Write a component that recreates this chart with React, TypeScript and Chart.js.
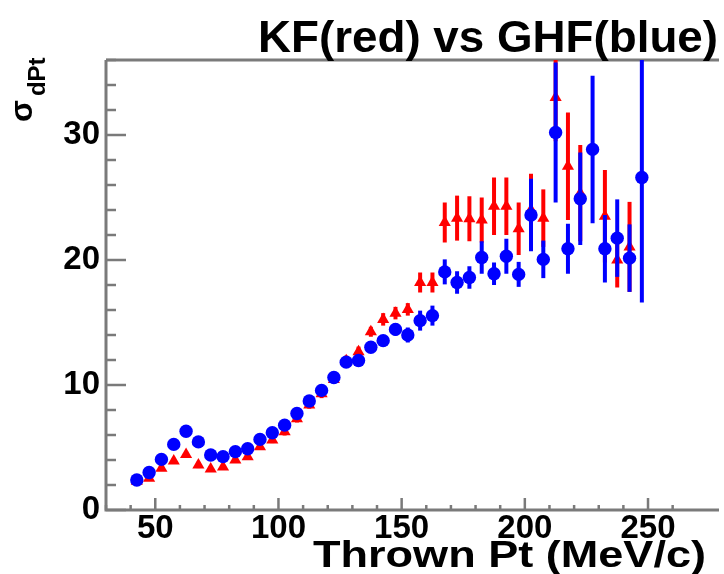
import React, { useEffect, useRef } from 'react';
import { Chart, registerables } from 'chart.js';

Chart.register(...registerables);

// Bin centres of thrown Pt (MeV/c)
const ptBins = [42.5, 47.5, 52.5, 57.5, 62.5, 67.5, 72.5, 77.5, 82.5, 87.5, 92.5, 97.5, 102.5, 107.5,
  112.5, 117.5, 122.5, 127.5, 132.5, 137.5, 142.5, 147.5, 152.5, 157.5, 162.5, 167.5, 172.5, 177.5,
  182.5, 187.5, 192.5, 197.5, 202.5, 207.5, 212.5, 217.5, 222.5, 227.5, 232.5, 237.5, 242.5, 247.5];

// GHF (blue)
const ghfSigma = [2.4, 3.0, 4.05, 5.25, 6.3, 5.45, 4.4, 4.27, 4.67, 4.9, 5.65, 6.18, 6.79, 7.72,
  8.72, 9.57, 10.6, 11.83, 11.96, 13.02, 13.55, 14.45, 14.0, 15.15, 15.55, 19.05, 18.2, 18.6,
  20.2, 18.9, 20.3, 18.85, 23.6, 20.05, 30.2, 20.9, 24.9, 28.85, 20.9, 21.75, 20.15, 26.6];
const ghfErr = [0.15, 0.15, 0.2, 0.2, 0.25, 0.25, 0.2, 0.2, 0.2, 0.2, 0.2, 0.25, 0.25, 0.25,
  0.3, 0.3, 0.3, 0.35, 0.35, 0.4, 0.45, 0.5, 0.6, 0.8, 0.8, 1.0, 0.9, 0.9,
  1.3, 0.9, 1.4, 1.0, 2.9, 1.5, 5.6, 2.0, 3.7, 5.9, 2.7, 3.1, 2.7, 10.0];

// KF (red)
const kfSigma = [2.3, 2.55, 3.34, 3.92, 4.45, 3.6, 3.29, 3.45, 4.0, 4.27, 5.07, 5.6, 6.26, 7.3,
  8.4, 9.3, 10.45, 11.95, 12.67, 14.26, 15.25, 15.75, 16.05, 18.2, 18.2, 23.0, 23.35, 23.3,
  23.2, 24.3, 24.3, 22.5, 24.0, 23.35, 33.0, 27.5, 25.35, null, 23.5, 20.0, 21.05, null];
const kfErr = [0.2, 0.2, 0.2, 0.2, 0.25, 0.25, 0.2, 0.2, 0.2, 0.25, 0.25, 0.25, 0.3, 0.3,
  0.3, 0.35, 0.35, 0.4, 0.4, 0.4, 0.5, 0.5, 0.5, 0.8, 0.8, 1.6, 1.8, 1.8,
  1.8, 2.3, 2.3, 2.1, 2.9, 2.3, 3.5, 4.3, 3.85, 0, 3.7, 2.2, 3.6, 0];

const xMajorTicks = [50, 100, 150, 200, 250];
const yMajorTicks = [0, 10, 20, 30];

const titleText = 'KF(red) vs GHF(blue)';
const xTitleText = 'Thrown Pt (MeV/c)';
const yTitleMain = 'σ';
const yTitleSub = 'dPt';

const FONT = '"Liberation Sans", Arial, Helvetica, sans-serif';

function buildPoints(ys: (number | null)[], errs: number[]) {
  const pts: { x: number; y: number; err: number }[] = [];
  ptBins.forEach((x, i) => {
    const y = ys[i];
    if (y !== null && y !== undefined) pts.push({ x, y, err: errs[i] });
  });
  return pts;
}

const errorBarPlugin = {
  id: 'errorBars',
  beforeDatasetDraw(chart: any, args: any) {
    const ds = chart.data.datasets[args.index];
    const xs = chart.scales.x;
    const ys = chart.scales.y;
    const area = chart.chartArea;
    const ctx = chart.ctx;
    ctx.save();
    ctx.beginPath();
    ctx.rect(area.left, area.top, area.right - area.left, area.bottom - area.top);
    ctx.clip();
    ctx.strokeStyle = ds.errColor;
    ctx.lineWidth = 4;
    ctx.lineCap = 'butt';
    (ds.data as any[]).forEach((p) => {
      if (!p.err) return;
      const px = xs.getPixelForValue(p.x);
      const y1 = ys.getPixelForValue(p.y - p.err);
      const y2 = ys.getPixelForValue(p.y + p.err);
      ctx.beginPath();
      ctx.moveTo(px, y1);
      ctx.lineTo(px, y2);
      ctx.stroke();
    });
    ctx.restore();
  },
};

function fillStretched(ctx: any, text: string, rightX: number, baseY: number, font: string, targetWidth: number) {
  ctx.save();
  ctx.font = font;
  ctx.textAlign = 'left';
  ctx.textBaseline = 'alphabetic';
  const w = ctx.measureText(text).width;
  const sx = targetWidth / w;
  ctx.translate(rightX - targetWidth, baseY);
  ctx.scale(sx, 1);
  ctx.fillText(text, 0, 0);
  ctx.restore();
}

const framePlugin = {
  id: 'rootFrame',
  beforeDatasetsDraw(chart: any) {
    const ctx = chart.ctx;
    const a = chart.chartArea;
    const xs = chart.scales.x;
    const ys = chart.scales.y;
    ctx.save();
    ctx.strokeStyle = '#7a7a7a';
    ctx.lineWidth = 3;
    ctx.beginPath();
    ctx.moveTo(a.left, a.top);
    ctx.lineTo(a.right + 2, a.top);
    ctx.moveTo(a.left, a.top);
    ctx.lineTo(a.left, a.bottom);
    ctx.lineTo(a.right + 2, a.bottom);
    ctx.stroke();
    ctx.lineWidth = 2.5;
    xs.ticks.forEach((t: any) => {
      const v = t.value;
      if (Math.abs(v % 10) > 1e-6) return;
      const px = xs.getPixelForValue(v);
      const len = xMajorTicks.includes(v) ? 12 : 5;
      ctx.beginPath();
      ctx.moveTo(px, a.bottom);
      ctx.lineTo(px, a.bottom - len);
      ctx.stroke();
    });
    ys.ticks.forEach((t: any) => {
      const v = t.value;
      if (Math.abs(v % 2) > 1e-6) return;
      const py = ys.getPixelForValue(v);
      const len = yMajorTicks.includes(v) ? 20 : 10;
      ctx.beginPath();
      ctx.moveTo(a.left, py);
      ctx.lineTo(a.left + len, py);
      ctx.stroke();
    });
    ctx.restore();
  },
  afterDraw(chart: any) {
    const ctx = chart.ctx;
    ctx.save();
    ctx.fillStyle = '#000';
    // main title
    fillStretched(ctx, titleText, 718, 52, `bold 44px ${FONT}`, 460);
    // x title
    fillStretched(ctx, xTitleText, 706, 567, `bold 37px ${FONT}`, 393);
    // y title (rotated)
    ctx.translate(32, 122);
    ctx.rotate(-Math.PI / 2);
    ctx.textAlign = 'left';
    ctx.textBaseline = 'alphabetic';
    ctx.font = `bold 32px ${FONT}`;
    ctx.fillText(yTitleMain, 0, 0);
    const w = ctx.measureText(yTitleMain).width;
    ctx.font = `bold 24px ${FONT}`;
    ctx.fillText(yTitleSub, w + 4, 13);
    ctx.restore();
  },
};

export default function App() {
  const ref = useRef<HTMLCanvasElement | null>(null);

  useEffect(() => {
    if (!ref.current) return;
    const chart = new Chart(ref.current, {
      type: 'scatter',
      data: {
        datasets: [
          {
            label: 'GHF',
            data: buildPoints(ghfSigma, ghfErr),
            pointStyle: 'circle',
            pointRadius: 6.7,
            pointBackgroundColor: '#0000ff',
            pointBorderWidth: 0,
            errColor: '#0000ff',
          } as any,
          {
            label: 'KF',
            data: buildPoints(kfSigma, kfErr),
            pointStyle: 'triangle',
            pointRadius: 7,
            pointBackgroundColor: '#ff0000',
            pointBorderWidth: 0,
            errColor: '#ff0000',
          } as any,
        ],
      },
      options: {
        responsive: false,
        animation: false,
        layout: { padding: { top: 60, left: 0, right: 0, bottom: 0 } },
        plugins: {
          legend: { display: false },
          tooltip: { enabled: false },
          title: { display: false },
        },
        scales: {
          x: {
            type: 'linear',
            min: 30,
            max: 278,
            grid: { display: false, drawTicks: false },
            border: { display: false },
            ticks: {
              stepSize: 10,
              autoSkip: false,
              maxRotation: 0,
              minRotation: 0,
              padding: -1,
              color: '#000',
              font: { family: FONT, size: 33, weight: 'bold' },
              callback: (v: any) => (xMajorTicks.includes(Number(v)) ? String(v) : ''),
            },
            afterFit: (s: any) => { s.height = 64; },
          },
          y: {
            type: 'linear',
            min: 0,
            max: 36,
            grid: { display: false, drawTicks: false },
            border: { display: false },
            ticks: {
              stepSize: 2,
              autoSkip: false,
              padding: 6,
              color: '#000',
              font: { family: FONT, size: 33, weight: 'bold' },
              callback: (v: any) => (yMajorTicks.includes(Number(v)) ? String(v) : ''),
            },
            afterFit: (s: any) => { s.width = 106; },
          },
        },
      } as any,
      plugins: [errorBarPlugin, framePlugin],
    });
    return () => chart.destroy();
  }, []);

  return (
    <div style={{ position: 'fixed', left: 0, top: 0, width: 724, height: 574, background: '#fff' }}>
      <canvas ref={ref} width={724} height={574} style={{ display: 'block' }} />
    </div>
  );
}
